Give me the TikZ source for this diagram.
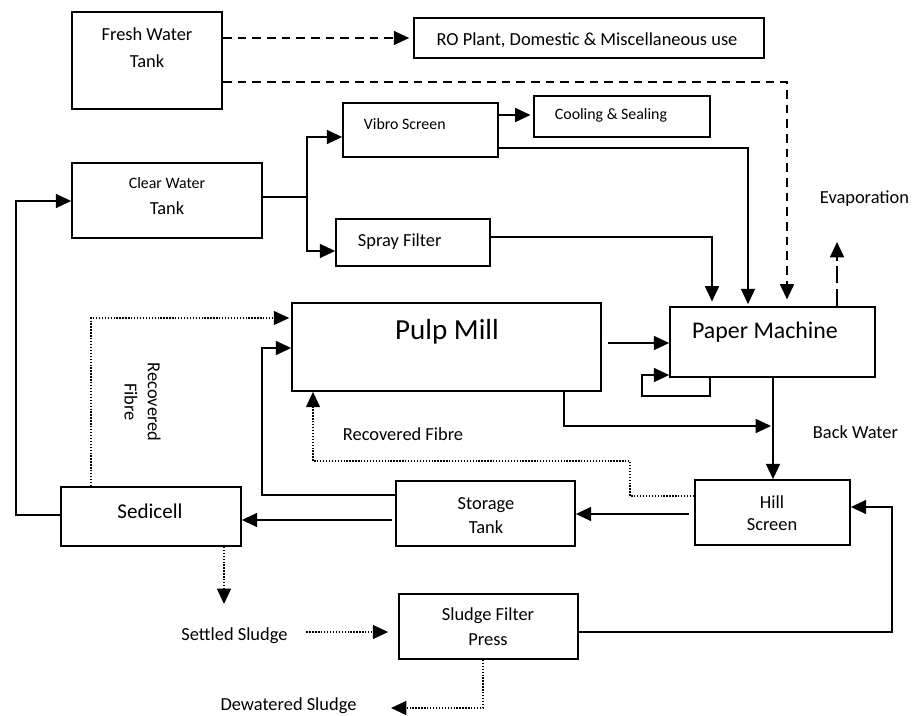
\documentclass[tikz,border=0pt]{standalone}
\usepackage{fontspec}
\setmainfont{Carlito}
\usetikzlibrary{arrows.meta}
\begin{document}
\begin{tikzpicture}[x=0.75pt,y=-0.75pt,
  box/.style={draw, line width=1.3pt, rectangle, inner sep=0pt},
  ln/.style={line width=1.3pt},
  arr/.style={-{Triangle[length=11.5pt,width=10.5pt]}},
  dsh/.style={line width=1.2pt, dash pattern=on 6.5pt off 4.5pt},
  dshlong/.style={line width=1.2pt, dash pattern=on 13pt off 4pt},
  dtt/.style={line width=1pt, dash pattern=on 1pt off 1.2pt},
  tnorm/.style={font=\fontsize{13.8}{16}\selectfont, inner sep=2pt},
  tsmall/.style={font=\fontsize{11.9}{14}\selectfont, inner sep=2pt},
  tpm/.style={font=\fontsize{17.9}{21}\selectfont, inner sep=2pt},
  tpulp/.style={font=\fontsize{21.8}{26}\selectfont, inner sep=2pt},
  tsed/.style={font=\fontsize{15.8}{19}\selectfont, inner sep=2pt}]
\useasboundingbox (0,0) rectangle (912,716);

% boxes
\node[box, minimum width=150*0.75pt, minimum height=97*0.75pt] (fw) at (147,60.5) {};
\node[box, minimum width=350*0.75pt, minimum height=40*0.75pt] (ro) at (589,38) {};
\node[box, minimum width=190*0.75pt, minimum height=75*0.75pt] (cw) at (167,200.5) {};
\node[box, minimum width=155*0.75pt, minimum height=54*0.75pt] (vs) at (420.5,130) {};
\node[box, minimum width=176*0.75pt, minimum height=41*0.75pt] (cs) at (622,116.5) {};
\node[box, minimum width=154*0.75pt, minimum height=47*0.75pt] (sf) at (413,242.5) {};
\node[box, minimum width=309*0.75pt, minimum height=88*0.75pt] (pm) at (446.5,347) {};
\node[box, minimum width=205*0.75pt, minimum height=70*0.75pt] (pap) at (772.5,342) {};
\node[box, minimum width=180*0.75pt, minimum height=59*0.75pt] (sed) at (151,516.5) {};
\node[box, minimum width=179*0.75pt, minimum height=65*0.75pt] (st) at (485.5,513.5) {};
\node[box, minimum width=155*0.75pt, minimum height=65*0.75pt] (hs) at (772.5,512.5) {};
\node[box, minimum width=179*0.75pt, minimum height=65*0.75pt] (sl) at (488.5,626.5) {};

% texts
\node[tnorm] (fwt1) at (147,34) {Fresh Water};
\node[tnorm] (fwt2) at (147,61) {Tank};
\node[tnorm] (rot) at (587,40) {RO Plant, Domestic \& Miscellaneous use};
\node[tsmall] (cwt1) at (167,183) {Clear Water};
\node[tnorm] (cwt2) at (167,208) {Tank};
\node[tsmall, anchor=west] (vst) at (361,124) {Vibro Screen};
\node[tsmall] (cst) at (611,115) {Cooling \& Sealing};
\node[tnorm, anchor=west] (sft) at (355,242) {Spray Filter};
\node[tpulp] (pmt) at (447,332) {Pulp Mill};
\node[tpm] (papt) at (765,332) {Paper Machine};
\node[tnorm, anchor=west] (evt) at (817,199) {Evaporation};
\node[tnorm, anchor=west] (bwt) at (810,432) {Back Water};
\node[tnorm, anchor=west] (rft) at (340,434) {Recovered Fibre};
\node[tnorm, rotate=-90, align=center, font=\fontsize{13.8}{17.5}\selectfont] (rfv) at (142.5,402) {Recovered\\Fibre};
\node[tsed] (sedt) at (150,511) {Sedicell};
\node[tnorm] (stt1) at (486,505) {Storage};
\node[tnorm] (stt2) at (486,527) {Tank};
\node[tnorm] (hst1) at (772,502) {Hill};
\node[tnorm] (hst2) at (772,525) {Screen};
\node[tnorm] (slt1) at (488,616) {Sludge Filter};
\node[tnorm] (slt2) at (488,640) {Press};
\node[tnorm] (settled) at (234.5,636) {Settled Sludge};
\node[tnorm] (dewat) at (288.5,706) {Dewatered Sludge};

% helper coordinates
\coordinate (br) at (307,197);
\coordinate (evap) at (837,242);
\coordinate (bw) at (773,426);
\coordinate (ssd) at (224,604);
\coordinate (dw) at (391,708);

% fresh water
\draw[dsh,arr,shorten >=3pt] (fw.east |- ro.west) -- (ro.west);
\draw[dsh,arr,shorten >=5pt] (fw.east |- 0,82) -| (pap.north -| 787,0);

% clear water branches
\draw[ln] (cw.east |- br) -- (br);
\draw[ln,arr] (br) |- (vs.west |- 0,137);
\draw[ln,arr] (br) |- (sf.west |- 0,251);

% vibro / spray
\draw[ln,arr,shorten >=2pt] (vs.east |- 0,115) -- (cs.west |- 0,115);
\draw[ln,arr,shorten >=1.5pt] (vs.east |- 0,148) -| (pap.north -| 748,0);
\draw[ln,arr,shorten >=3.5pt] (sf.east |- 0,237) -| (pap.north -| 712,0);

% evaporation
\draw[dshlong,arr] (pap.north -| evap) -- (evap);

% pulp mill to paper machine
\draw[ln,arr,shorten <=4.5pt] (pm.east |- 0,343) -- (pap.west |- 0,343);
% self loop
\draw[ln,arr] (pap.south -| 710,0) -- (710,396) -| (642,375) -- (pap.west |- 0,375);
% back water
\draw[ln,arr] (pap.south -| bw) -- (hs.north -| bw);
\draw[ln,arr,shorten >=1.5pt] (pm.south -| 564,0) |- (bw);

% hill screen to storage
\draw[ln,arr,shorten <=3.75pt] (hs.west |- 0,514) -- (st.east |- 0,514);
% storage to sedicell
\draw[ln,arr,shorten <=2.25pt] (st.west |- 0,520) -- (sed.east |- 0,520);
% storage to pulp mill
\draw[ln,arr] (st.west |- 0,495) -| (262,348) -- (pm.west |- 0,348);
% sedicell to clear water
\draw[ln,arr] (sed.west |- 0,515) -| (16,201) -- (cw.west |- 0,201);

% recovered fibre dotted
\draw[dtt,arr,shorten >=1.5pt] (sed.north -| 91,0) |- (pm.west |- 0,318);
\draw[dtt,arr] (hs.west |- 0,496) -| (630,461) -| (pm.south -| 313,0);

% sludge
\draw[dtt,arr] (sed.south -| ssd) -- (ssd);
\draw[dtt,arr,shorten <=12pt,shorten >=7.5pt] (settled.east |- 0,632) -- (sl.west |- 0,632);
\draw[dtt,arr] (sl.south -| 483,0) |- (dw);
\draw[ln,arr] (sl.east |- 0,632) -| (892,507) -- (hs.east |- 0,507);
\end{tikzpicture}
\end{document}
